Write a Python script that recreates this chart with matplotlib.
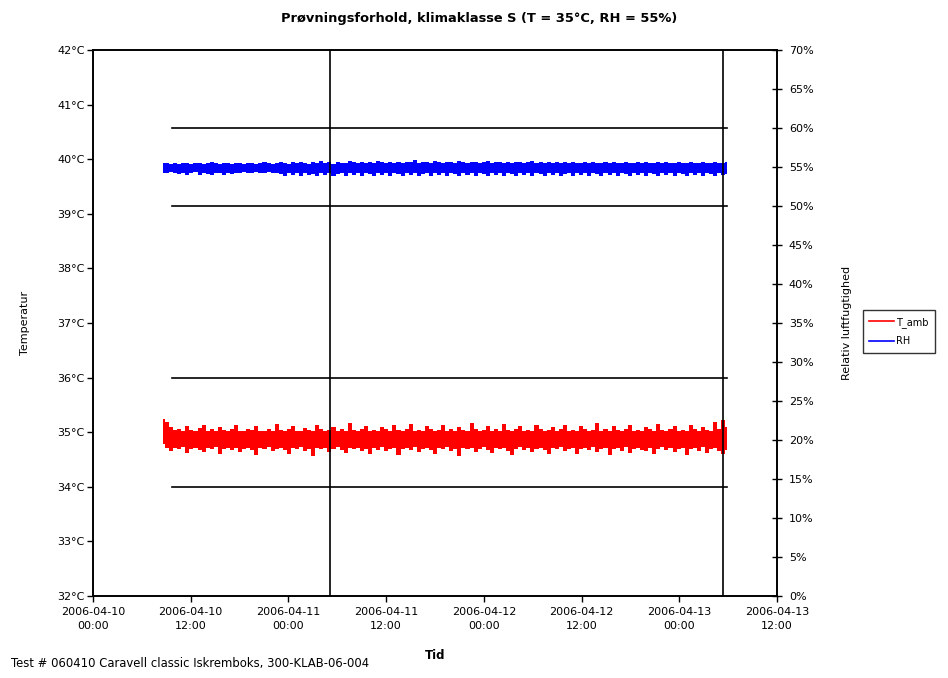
import numpy as np
import pandas as pd
import matplotlib
matplotlib.use("Agg")
import matplotlib.pyplot as plt
import matplotlib.dates as mdates
from matplotlib.lines import Line2D

plt.rcParams["font.family"] = ["DejaVu Sans"]

# ── data ────────────────────────────────────────────────────────────────────
# logged samples, shown as the spread (low / high) within each time slice
T_START = "2006-04-10 08:36"
T_END   = "2006-04-13 05:54"

t_hi = [
    35.25, 35.18, 35.10, 35.04, 35.06, 35.02, 35.12, 35.04, 35.03, 35.08,
    35.14, 35.03, 35.05, 35.02, 35.10, 35.04, 35.03, 35.06, 35.13, 35.03,
    35.02, 35.05, 35.04, 35.11, 35.03, 35.02, 35.06, 35.03, 35.15, 35.04,
    35.03, 35.05, 35.12, 35.03, 35.02, 35.08, 35.04, 35.03, 35.14, 35.05,
    35.03, 35.04, 35.10, 35.02, 35.05, 35.03, 35.16, 35.04, 35.03, 35.06,
    35.12, 35.03, 35.04, 35.02, 35.09, 35.05, 35.03, 35.13, 35.04, 35.02,
    35.06, 35.15, 35.03, 35.04, 35.02, 35.11, 35.05, 35.03, 35.04, 35.14,
    35.03, 35.06, 35.02, 35.10, 35.04, 35.03, 35.17, 35.05, 35.03, 35.04,
    35.12, 35.03, 35.06, 35.02, 35.15, 35.04, 35.03, 35.05, 35.11, 35.03,
    35.04, 35.02, 35.13, 35.05, 35.03, 35.04, 35.10, 35.03, 35.06, 35.14,
    35.03, 35.04, 35.02, 35.12, 35.05, 35.03, 35.04, 35.16, 35.03, 35.05,
    35.02, 35.11, 35.04, 35.03, 35.06, 35.13, 35.03, 35.04, 35.02, 35.10,
    35.05, 35.03, 35.15, 35.04, 35.03, 35.06, 35.12, 35.03, 35.04, 35.02,
    35.14, 35.05, 35.03, 35.10, 35.04, 35.03, 35.18, 35.06, 35.22, 35.10,
]

t_lo = [
    34.78, 34.72, 34.66, 34.71, 34.69, 34.73, 34.62, 34.70, 34.72, 34.68,
    34.64, 34.71, 34.69, 34.73, 34.60, 34.70, 34.72, 34.67, 34.71, 34.63,
    34.70, 34.72, 34.68, 34.58, 34.71, 34.69, 34.73, 34.65, 34.70, 34.72,
    34.68, 34.61, 34.71, 34.69, 34.73, 34.66, 34.70, 34.57, 34.72, 34.69,
    34.71, 34.64, 34.70, 34.73, 34.68, 34.62, 34.71, 34.69, 34.72, 34.66,
    34.70, 34.60, 34.71, 34.68, 34.73, 34.65, 34.70, 34.72, 34.59, 34.69,
    34.71, 34.67, 34.73, 34.63, 34.70, 34.72, 34.68, 34.61, 34.71, 34.69,
    34.73, 34.65, 34.70, 34.56, 34.72, 34.69, 34.71, 34.64, 34.70, 34.73,
    34.68, 34.62, 34.71, 34.69, 34.72, 34.66, 34.58, 34.70, 34.73, 34.68,
    34.71, 34.63, 34.69, 34.72, 34.67, 34.60, 34.71, 34.69, 34.73, 34.65,
    34.70, 34.72, 34.61, 34.69, 34.71, 34.67, 34.73, 34.64, 34.70, 34.72,
    34.59, 34.69, 34.71, 34.66, 34.73, 34.62, 34.70, 34.72, 34.68, 34.65,
    34.71, 34.60, 34.69, 34.73, 34.67, 34.71, 34.63, 34.70, 34.72, 34.58,
    34.69, 34.71, 34.66, 34.73, 34.62, 34.70, 34.72, 34.65, 34.60, 34.68,
]

rh_hi = [
    55.5, 55.5, 55.4, 55.5, 55.4, 55.5, 55.5, 55.4, 55.5, 55.5,
    55.4, 55.5, 55.7, 55.5, 55.4, 55.5, 55.5, 55.4, 55.5, 55.5,
    55.4, 55.5, 55.5, 55.4, 55.5, 55.6, 55.5, 55.4, 55.5, 55.7,
    55.5, 55.4, 55.6, 55.5, 55.7, 55.5, 55.4, 55.6, 55.5, 55.8,
    55.5, 55.6, 55.4, 55.7, 55.5, 55.5, 55.8, 55.6, 55.5, 55.7,
    55.5, 55.6, 55.5, 55.8, 55.6, 55.5, 55.7, 55.5, 55.6, 55.5,
    55.7, 55.6, 55.9, 55.5, 55.6, 55.7, 55.5, 55.8, 55.6, 55.5,
    55.7, 55.6, 55.5, 55.8, 55.6, 55.5, 55.7, 55.6, 55.5, 55.6,
    55.8, 55.5, 55.6, 55.7, 55.5, 55.6, 55.5, 55.7, 55.6, 55.5,
    55.6, 55.8, 55.5, 55.6, 55.5, 55.7, 55.5, 55.6, 55.5, 55.7,
    55.5, 55.6, 55.5, 55.5, 55.7, 55.5, 55.6, 55.5, 55.5, 55.6,
    55.5, 55.7, 55.5, 55.5, 55.6, 55.5, 55.5, 55.7, 55.5, 55.6,
    55.5, 55.5, 55.6, 55.5, 55.7, 55.5, 55.5, 55.6, 55.5, 55.5,
    55.7, 55.5, 55.5, 55.6, 55.5, 55.5, 55.6, 55.5, 55.5, 55.6,
]

rh_lo = [
    54.2, 54.2, 54.3, 54.2, 54.1, 54.2, 54.0, 54.2, 54.3, 54.0,
    54.2, 54.1, 54.0, 54.2, 54.2, 54.0, 54.2, 54.1, 54.2, 54.2,
    54.3, 54.2, 54.2, 54.3, 54.2, 54.2, 54.3, 54.2, 54.2, 54.1,
    53.9, 54.2, 54.0, 54.2, 53.9, 54.2, 54.0, 54.1, 53.9, 54.2,
    54.0, 54.2, 53.9, 54.1, 54.2, 53.9, 54.2, 54.0, 54.2, 53.9,
    54.2, 54.1, 53.9, 54.2, 54.0, 54.2, 53.9, 54.2, 54.1, 53.9,
    54.2, 54.0, 54.2, 53.9, 54.1, 54.2, 53.9, 54.2, 54.0, 54.2,
    53.9, 54.2, 54.1, 53.9, 54.2, 54.0, 54.2, 53.9, 54.2, 54.1,
    53.9, 54.2, 54.0, 54.2, 53.8, 54.2, 54.1, 53.9, 54.2, 54.0,
    54.2, 53.9, 54.2, 54.1, 53.9, 54.2, 54.0, 54.2, 53.9, 54.1,
    54.2, 53.9, 54.2, 54.0, 54.2, 53.9, 54.2, 54.1, 53.9, 54.2,
    54.0, 54.2, 53.9, 54.2, 54.1, 53.9, 54.2, 54.0, 54.2, 53.9,
    54.2, 54.1, 53.9, 54.2, 54.0, 54.2, 53.9, 54.2, 54.1, 53.9,
    54.2, 54.0, 54.2, 53.9, 54.2, 54.1, 53.9, 54.2, 54.0, 54.1,
]

# limits of the climate class
t_limits  = [34, 36]
rh_limits = [50, 60]
limit_span = ["2006-04-10 09:40", "2006-04-13 05:54"]

# start / end of the test period
period_marks = ["2006-04-11 05:06", "2006-04-13 05:24"]

x_ticks = pd.date_range("2006-04-10 00:00", "2006-04-13 12:00", freq="12h")

times = pd.date_range(T_START, T_END, periods=len(t_hi))

# ── figure ──────────────────────────────────────────────────────────────────
fig = plt.figure(figsize=(9.48, 6.78), dpi=100)
ax = fig.add_axes([0.0981, 0.1209, 0.7215, 0.8054])
ax2 = ax.twinx()

ls = pd.to_datetime(limit_span)
for v in t_limits:
    ax.plot(ls, [v, v], color="black", lw=1.2, zorder=2)
for v in rh_limits:
    ax2.plot(ls, [v, v], color="black", lw=1.2, zorder=2)

ax.fill_between(times, t_lo, t_hi, step="mid", color="#ff0000", lw=0, zorder=3)
ax2.fill_between(times, rh_lo, rh_hi, step="mid", color="#0000ff", lw=0, zorder=3)

for d in pd.to_datetime(period_marks):
    ax2.axvline(d, color="black", lw=1.2, zorder=4)

ax.set_xlim(x_ticks[0], x_ticks[-1])
ax.set_ylim(32, 42)
ax2.set_ylim(0, 70)

ax.set_xticks(x_ticks)
ax.xaxis.set_major_formatter(mdates.DateFormatter("%Y-%m-%d\n%H:%M"))
ax.set_yticks(range(32, 43))
ax.set_yticklabels([f"{v}°C" for v in range(32, 43)])
ax2.set_yticks(range(0, 71, 5))
ax2.set_yticklabels([f"{v}%" for v in range(0, 71, 5)])

ax.tick_params(axis="x", direction="out", length=4, width=1, labelsize=8, pad=4)
ax.tick_params(axis="y", direction="out", length=4, width=1, labelsize=8, pad=2)
ax2.tick_params(axis="y", direction="inout", length=7, width=1, labelsize=8, pad=5)
plt.setp(ax.get_xticklabels(), linespacing=1.45)

for a in (ax, ax2):
    for sp in a.spines.values():
        sp.set_linewidth(1.2)
        sp.set_color("black")

ax.set_xlabel("Tid", fontsize=8.5, fontweight="bold")
ax.xaxis.set_label_coords(0.5, -0.097)
ax.set_ylabel("Temperatur", fontsize=8)
ax.yaxis.set_label_coords(-0.092, 0.5)
ax2.set_ylabel("Relativ luftfugtighed", fontsize=8)
ax2.yaxis.set_label_coords(1.095, 0.5)

fig.text(0.505, 0.973, "Prøvningsforhold, klimaklasse S (T = 35°C, RH = 55%)",
         ha="center", va="center", fontsize=9.4, fontweight="bold")
fig.text(0.012, 0.022, "Test # 060410 Caravell classic Iskremboks, 300-KLAB-06-004",
         ha="left", va="center", fontsize=8.4)

handles = [Line2D([], [], color="#ff0000", lw=1.2),
           Line2D([], [], color="#0000ff", lw=1.2)]
leg = fig.legend(handles, ["T_amb", "RH"], loc="lower left",
                 bbox_to_anchor=(0.910, 0.479), fontsize=7,
                 frameon=True, fancybox=False, handlelength=2.5,
                 handletextpad=0.2, borderpad=0.7, labelspacing=0.9,
                 borderaxespad=0)
leg.get_frame().set_edgecolor("black")
leg.get_frame().set_linewidth(1.0)

fig.savefig("out.png", dpi=100)
